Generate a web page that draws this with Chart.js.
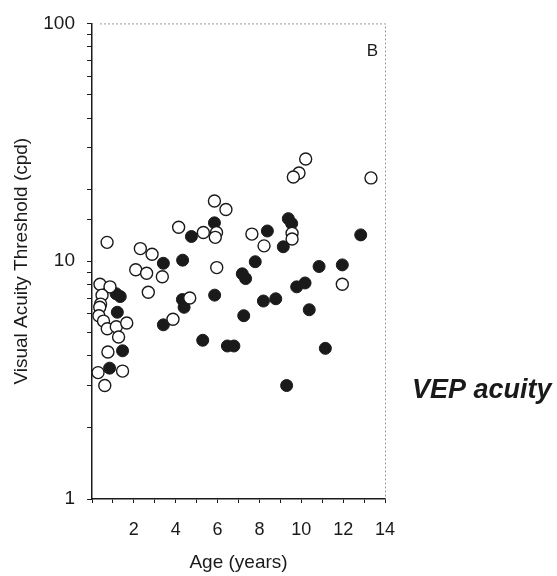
<!DOCTYPE html>
<html>
<head>
<meta charset="utf-8">
<script src="https://cdn.jsdelivr.net/npm/chart.js@4/dist/chart.umd.min.js"></script>
<style>
  html, body { margin: 0; padding: 0; background: #fff; }
  #wrap { width: 557px; height: 576px; position: relative; }
</style>
</head>
<body>
<div id="wrap"><canvas id="chart" width="557" height="576"></canvas></div>
<script>
// open circles (age in years, threshold in cpd)
const openAge = [0.72, 2.31, 2.87, 4.14, 2.09, 2.61, 3.36, 2.69, 0.38, 0.86, 0.48, 0.41, 0.37, 0.33, 0.55, 0.73, 1.16, 1.66, 1.27, 0.76, 0.29, 1.46, 0.61, 3.87, 4.67, 5.85, 6.40, 5.32, 5.95, 5.89, 7.64, 8.22, 5.96, 10.21, 9.89, 9.62, 13.33, 9.56, 9.56, 11.96];
const openThreshold = [12.0, 11.3, 10.7, 13.9, 9.2, 8.9, 8.6, 7.4, 8.0, 7.8, 7.2, 6.6, 6.4, 5.9, 5.6, 5.2, 5.3, 5.5, 4.8, 4.15, 3.4, 3.45, 3.0, 5.7, 7.0, 17.9, 16.5, 13.2, 13.2, 12.6, 13.0, 11.6, 9.4, 26.9, 23.5, 22.6, 22.4, 13.1, 12.4, 8.0];

// filled circles
const filledAge = [4.75, 3.41, 4.33, 1.15, 1.35, 1.21, 1.46, 0.84, 3.41, 4.32, 4.40, 5.85, 7.80, 7.18, 7.34, 8.38, 5.86, 8.19, 7.25, 5.29, 6.47, 6.78, 9.38, 9.54, 9.14, 12.84, 10.85, 11.96, 9.78, 10.18, 8.78, 10.38, 11.15, 9.30];
const filledThreshold = [12.7, 9.8, 10.1, 7.3, 7.1, 6.1, 4.2, 3.55, 5.4, 6.9, 6.4, 14.5, 9.95, 8.85, 8.45, 13.4, 7.2, 6.8, 5.9, 4.65, 4.4, 4.4, 15.1, 14.4, 11.5, 12.9, 9.5, 9.65, 7.8, 8.1, 6.95, 6.25, 4.3, 3.0];

const xLabels = [2, 4, 6, 8, 10, 12, 14];
const yLabels = [1, 10, 100];

const font = "'Liberation Sans', Arial, sans-serif";
const ink = '#1a1a1a';

function pairs(xs, ys) {
  return xs.map((x, i) => ({ x: x, y: ys[i] }));
}

// dotted frame on top and right, plus the panel letter and side caption
const extras = {
  id: 'extras',
  afterDraw(chart) {
    const { ctx, chartArea: a } = chart;
    ctx.save();
    ctx.strokeStyle = '#9a9a9a';
    ctx.lineWidth = 1;
    ctx.setLineDash([2, 2]);
    ctx.beginPath();
    ctx.moveTo(a.left + 8, a.top + 0.5);
    ctx.lineTo(a.right + 0.5, a.top + 0.5);
    ctx.lineTo(a.right + 0.5, a.bottom);
    ctx.stroke();
    ctx.setLineDash([]);
    ctx.fillStyle = ink;
    ctx.font = '17px ' + font;
    ctx.textAlign = 'right';
    ctx.textBaseline = 'middle';
    ctx.fillText('B', a.right - 7, a.top + 28);
    ctx.font = 'italic bold 27px ' + font;
    ctx.textAlign = 'left';
    ctx.fillText('VEP acuity', 412, 391);
    ctx.restore();
  }
};

new Chart('chart', {
  type: 'scatter',
  data: {
    datasets: [
      {
        label: 'open',
        data: pairs(openAge, openThreshold),
        pointRadius: 6,
        pointHoverRadius: 6,
        pointBackgroundColor: '#fff',
        pointBorderColor: ink,
        pointBorderWidth: 1.4
      },
      {
        label: 'filled',
        data: pairs(filledAge, filledThreshold),
        pointRadius: 6,
        pointHoverRadius: 6,
        pointBackgroundColor: ink,
        pointBorderColor: ink,
        pointBorderWidth: 1
      }
    ]
  },
  options: {
    responsive: false,
    animation: false,
    layout: { padding: { left: 0, right: 172, top: 19, bottom: 0 } },
    plugins: { legend: { display: false }, tooltip: { enabled: false } },
    scales: {
      x: {
        type: 'linear',
        min: 0,
        max: 14,
        afterFit(s) { s.height = 77; },
        border: { color: ink, width: 1.5 },
        grid: { drawOnChartArea: false, tickLength: 4, tickColor: ink },
        ticks: {
          stepSize: 1,
          autoSkip: false,
          maxRotation: 0,
          padding: 16,
          color: ink,
          font: { family: font, size: 18 },
          callback: v => xLabels.includes(v) ? v : ''
        },
        title: {
          display: true,
          text: 'Age (years)',
          color: ink,
          font: { family: font, size: 19 },
          padding: { top: 0, bottom: 2 }
        }
      },
      y: {
        type: 'logarithmic',
        min: 1,
        max: 100,
        afterFit(s) { s.width = 92; },
        border: { color: ink, width: 1.5 },
        grid: { drawOnChartArea: false, tickLength: 5, tickColor: ink },
        ticks: {
          autoSkip: false,
          padding: 12,
          color: ink,
          font: { family: font, size: 19 },
          callback: v => yLabels.includes(v) ? v : ''
        },
        title: {
          display: true,
          text: 'Visual Acuity Threshold (cpd)',
          color: ink,
          font: { family: font, size: 19 },
          padding: { top: 10, bottom: 0 }
        }
      }
    }
  },
  plugins: [extras]
});
</script>
</body>
</html>
